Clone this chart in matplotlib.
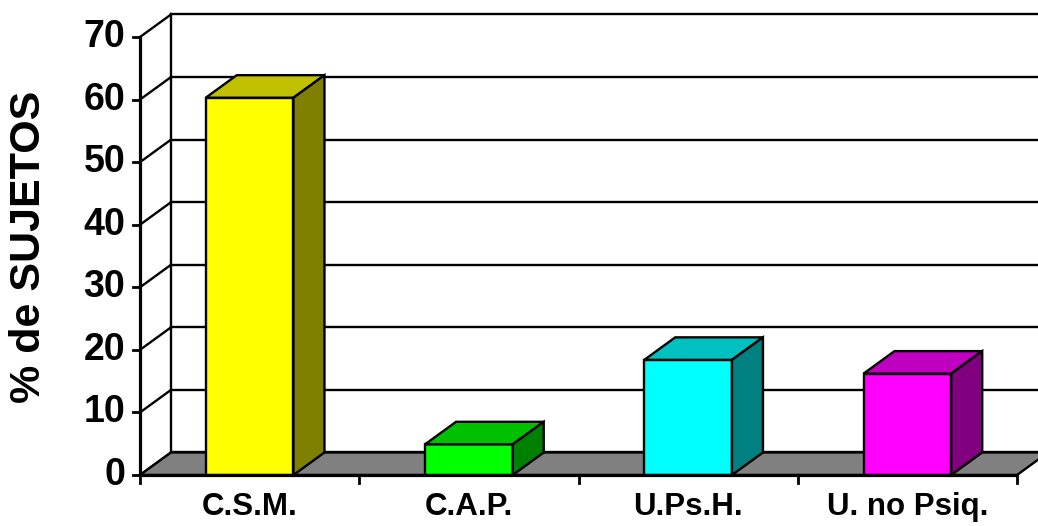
import matplotlib
matplotlib.use("Agg")
import matplotlib.pyplot as plt

# data
categories = ["C.S.M.", "C.A.P.", "U.Ps.H.", "U. no Psiq."]
values = [60.3, 4.9, 18.4, 16.2]
front_colors = ["#FFFF00", "#00FF00", "#00FFFF", "#FF00FF"]
top_colors = ["#C0C000", "#00C000", "#00C0C0", "#C000C0"]
side_colors = ["#808000", "#008000", "#008080", "#800080"]
yticks = [0, 10, 20, 30, 40, 50, 60, 70]

plt.rcParams['font.family'] = ['Liberation Sans', 'DejaVu Sans']
plt.rcParams['font.weight'] = 'bold'

fig = plt.figure(figsize=(10.38, 5.26), dpi=100)
ax = fig.add_axes([0, 0, 1, 1])
ax.axis('off')

# pixel mapping: x=0 at px 140, 1 category = 219.25 px; y=0 at px 475 (from top), 10 units = 62.57 px
ax.set_xlim(-140 / 219.25, (1038 - 140) / 219.25)
ax.set_ylim((475 - 526) / 6.257, 475 / 6.257)

DX = 0.1414   # depth offset in category units
DY = 3.6      # depth offset in value units
ymax = 70
n = len(categories)
lw = 1.7

# back wall
ax.fill([DX, n + DX, n + DX, DX], [DY, DY, ymax + DY, ymax + DY], color='white', zorder=1)
# gridlines on back wall and left wall
for t in yticks:
    ax.plot([DX, n + DX + 1], [t + DY, t + DY], color='black', lw=lw, zorder=2)
    ax.plot([0, DX], [t, t + DY], color='black', lw=lw, zorder=2)
ax.plot([DX, DX], [DY, ymax + DY], color='black', lw=lw, zorder=2)

# floor
ax.fill([0, n, n + DX, DX], [0, 0, DY, DY], facecolor='#808080', edgecolor='black', lw=lw, zorder=3)

# bars
for i, (v, fc, tc, sc) in enumerate(zip(values, front_colors, top_colors, side_colors)):
    x0 = i + 0.3
    x1 = i + 0.7
    ax.fill([x0, x1, x1, x0], [0, 0, v, v], facecolor=fc, edgecolor='black', lw=lw, zorder=4)
    ax.fill([x0, x1, x1 + DX, x0 + DX], [v, v, v + DY, v + DY], facecolor=tc, edgecolor='black', lw=lw, zorder=4)
    ax.fill([x1, x1 + DX, x1 + DX, x1], [0, DY, v + DY, v], facecolor=sc, edgecolor='black', lw=lw, zorder=4)

# front axes
ax.plot([0, 0], [0, ymax], color='black', lw=2.3, zorder=5, solid_capstyle='butt')
ax.plot([0, n], [0, 0], color='black', lw=2.3, zorder=5, solid_capstyle='butt')
for t in yticks:
    ax.plot([-0.032, 0], [t, t], color='black', lw=2, zorder=5)
    ax.text(-0.068, t, str(t), ha='right', va='center', fontsize=27, fontweight='bold')
for i in range(n + 1):
    ax.plot([i, i], [0, -1.2], color='black', lw=2, zorder=5)
for i, c in enumerate(categories):
    ax.text(i + 0.5, -5.1, c, ha='center', va='center', fontsize=22.5, fontweight='bold')

ax.text(-0.506, 36.4, "% de SUJETOS", rotation=90, ha='center', va='center',
        fontsize=31, fontweight='bold')

fig.savefig("out.png", dpi=100)
